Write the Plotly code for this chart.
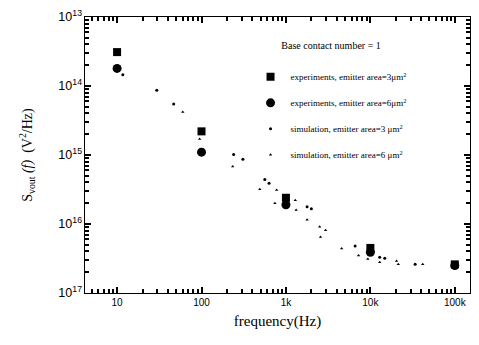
import plotly.graph_objects as go

# Experiments
exp_freq = [10, 100, 1000, 10000, 100000]
exp_3um = [3.1e-14, 2.2e-15, 2.4e-16, 4.5e-17, 2.6e-17]
exp_6um = [1.8e-14, 1.1e-15, 1.9e-16, 3.9e-17, 2.5e-17]

# Simulation, emitter area = 3 um^2
sim3_freq = [11.7, 29.5, 46.8, 240, 309, 562, 631, 1780, 2000, 6600, 12900, 14800, 33900]
sim3_val = [1.45e-14, 8.7e-15, 5.5e-15, 1.02e-15, 8.7e-16, 4.4e-16, 3.9e-16,
            1.78e-16, 1.66e-16, 4.8e-17, 3.3e-17, 3.2e-17, 2.6e-17]

# Simulation, emitter area = 6 um^2
sim6_freq = [60, 95, 234, 490, 776, 740, 1290, 1320, 1780, 2510, 2950, 2570,
             4570, 7240, 9330, 12900, 20400, 21400, 41700]
sim6_val = [4.2e-15, 1.7e-15, 6.8e-16, 3.2e-16, 3.1e-16, 2.0e-16, 2.2e-16, 1.6e-16,
            1.15e-16, 9.1e-17, 8.1e-17, 6.5e-17, 4.4e-17, 3.5e-17, 3.1e-17,
            2.8e-17, 2.9e-17, 2.6e-17, 2.6e-17]

# Tick labels as printed on the reference
x_labels = {"10": "10", "100": "100", "1000": "1k", "10k": "10k", "100k": "100k"}
y_exponents = [13, 14, 15, 16, 17]
y_labels = {}
for e in y_exponents:
    for minus in ("\u2212", "-"):
        y_labels["10<sup>%s%d</sup>" % (minus, e)] = "10<sup>%d</sup>" % e

X_RANGE = [0.62, 5.18]
Y_RANGE = [-17, -13]

fig = go.Figure()
fig.add_trace(go.Scatter(x=exp_freq, y=exp_3um, mode="markers",
                         name="experiments, emitter area=3μm<sup>2</sup>",
                         legendgroup="a",
                         marker=dict(symbol="square", size=8, color="black")))
fig.add_trace(go.Scatter(x=exp_freq, y=exp_6um, mode="markers",
                         name="experiments, emitter area=6μm<sup>2</sup>",
                         legendgroup="b",
                         marker=dict(symbol="circle", size=9, color="black")))
fig.add_trace(go.Scatter(x=sim3_freq, y=sim3_val, mode="markers",
                         name="simulation, emitter area=3 μm<sup>2</sup>",
                         legendgroup="c",
                         marker=dict(symbol="circle", size=3, color="black")))
fig.add_trace(go.Scatter(x=sim6_freq, y=sim6_val, mode="markers",
                         name="simulation, emitter area=6 μm<sup>2</sup>",
                         legendgroup="d",
                         marker=dict(symbol="triangle-up", size=3, color="black")))

axis_common = dict(showline=True, linecolor="black", mirror="allticks",
                   ticks="inside", ticklen=6, tickwidth=1.5, tickcolor="black",
                   showgrid=False, zeroline=False, tickmode="linear", dtick=1,
                   minor=dict(ticks="inside", ticklen=4, tickcolor="black"),
                   tickfont=dict(family="Liberation Sans", size=10, color="black"))

fig.update_layout(
    template="simple_white",
    width=479, height=345,
    margin=dict(l=85, r=9, t=17, b=52),
    showlegend=True,
    xaxis=dict(type="log", range=X_RANGE, tick0=0, exponentformat="SI",
               labelalias=x_labels,
               title=dict(text="frequency(Hz)",
                          font=dict(family="Liberation Serif", size=15, color="black"),
                          standoff=8),
               **axis_common),
    yaxis=dict(type="log", range=Y_RANGE, tick0=0, exponentformat="power",
               labelalias=y_labels,
               title=dict(text="S<sub>vout</sub> <i>(f)</i>  (V<sup>2</sup>/Hz)",
                          font=dict(family="Liberation Serif", size=14, color="black"),
                          standoff=22),
               **axis_common),
    legend=dict(x=0.43, y=0.93, xanchor="left", yanchor="top",
                bgcolor="rgba(0,0,0,0)", borderwidth=0,
                tracegroupgap=7, traceorder="grouped",
                font=dict(family="Liberation Serif", size=9, color="black"),
                title=dict(text="Base contact number = 1<br> ", side="top center",
                           font=dict(family="Liberation Serif", size=10, color="black"))),
)

fig.write_html("out.html")
